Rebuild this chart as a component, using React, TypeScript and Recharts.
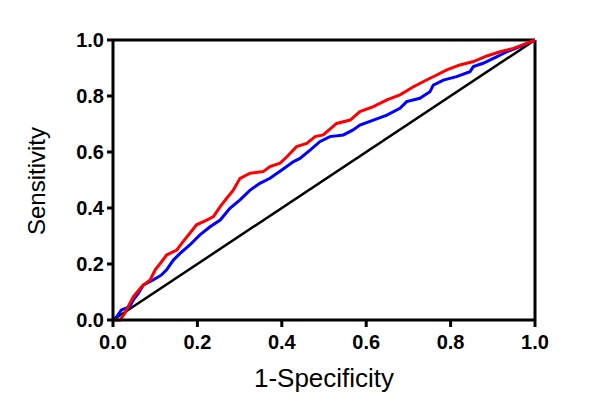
import { LineChart, Line, XAxis, YAxis, ReferenceLine } from 'recharts';

// ROC curve, red series (1-specificity, sensitivity)
const redFpr = [0, 0.017, 0.028, 0.048, 0.068, 0.088, 0.1, 0.111, 0.127, 0.151, 0.166, 0.182, 0.198, 0.222, 0.238, 0.254, 0.269, 0.285, 0.301, 0.325, 0.356, 0.372, 0.396, 0.412, 0.435, 0.459, 0.479, 0.498, 0.53, 0.562, 0.585, 0.617, 0.649, 0.68, 0.712, 0.743, 0.767, 0.791, 0.822, 0.854, 0.886, 0.917, 0.949, 0.98, 1.0];
const redTpr = [0, 0, 0.024, 0.083, 0.119, 0.143, 0.179, 0.2, 0.232, 0.25, 0.28, 0.31, 0.34, 0.357, 0.369, 0.405, 0.434, 0.464, 0.506, 0.524, 0.53, 0.548, 0.56, 0.583, 0.619, 0.631, 0.655, 0.661, 0.702, 0.714, 0.744, 0.762, 0.786, 0.804, 0.833, 0.857, 0.875, 0.893, 0.911, 0.923, 0.943, 0.958, 0.97, 0.988, 1.0];

// ROC curve, blue series
const blueFpr = [0, 0.009, 0.02, 0.04, 0.048, 0.06, 0.072, 0.095, 0.115, 0.127, 0.143, 0.159, 0.182, 0.206, 0.23, 0.254, 0.277, 0.301, 0.325, 0.348, 0.372, 0.4, 0.427, 0.443, 0.467, 0.49, 0.514, 0.546, 0.569, 0.585, 0.617, 0.649, 0.68, 0.696, 0.727, 0.751, 0.759, 0.783, 0.814, 0.846, 0.854, 0.877, 0.909, 0.933, 0.964, 1.0];
const blueTpr = [0, 0.012, 0.036, 0.048, 0.071, 0.095, 0.125, 0.143, 0.161, 0.179, 0.214, 0.238, 0.268, 0.304, 0.333, 0.357, 0.399, 0.429, 0.464, 0.488, 0.506, 0.536, 0.565, 0.577, 0.607, 0.637, 0.655, 0.661, 0.679, 0.696, 0.714, 0.732, 0.756, 0.78, 0.792, 0.815, 0.839, 0.857, 0.869, 0.887, 0.905, 0.917, 0.94, 0.958, 0.976, 1.0];

// reference diagonal
const diagFpr = [0, 1];
const diagTpr = [0, 1];

const ticks = [0, 0.2, 0.4, 0.6, 0.8, 1.0];

const FONT = 'Arial, "Liberation Sans", Helvetica, sans-serif';

const toPoints = (xs: number[], ys: number[]) => xs.map((x, i) => ({ x, y: ys[i] }));

export default function App() {
  const red = toPoints(redFpr, redTpr);
  const blue = toPoints(blueFpr, blueTpr);
  const diag = toPoints(diagFpr, diagTpr);

  const tickStyle = { fill: '#000', fontSize: 20, fontWeight: 'bold', fontFamily: FONT };
  const lineStyle = { stroke: '#000', strokeWidth: 3 };

  return (
    <div style={{ position: 'absolute', left: 0, top: 0, background: '#fff' }}>
      <LineChart width={600} height={412} margin={{ top: 40, right: 65, left: 0, bottom: 0 }}>
        <XAxis
          type="number"
          dataKey="x"
          domain={[0, 1]}
          ticks={ticks}
          tickFormatter={(v: number) => v.toFixed(1)}
          tick={tickStyle}
          tickSize={7}
          tickMargin={8}
          axisLine={lineStyle}
          tickLine={lineStyle}
          height={92}
          label={{
            content: ({ viewBox }: any) => (
              <text
                x={viewBox.x + viewBox.width / 2}
                y={viewBox.y + 67}
                textAnchor="middle"
                fontSize={26}
                fontFamily={FONT}
                fill="#000"
              >
                1-Specificity
              </text>
            ),
          }}
        />
        <YAxis
          type="number"
          dataKey="y"
          domain={[0, 1]}
          ticks={ticks}
          tickFormatter={(v: number) => v.toFixed(1)}
          tick={tickStyle}
          tickSize={6}
          tickMargin={3}
          axisLine={lineStyle}
          tickLine={lineStyle}
          width={113}
          label={{
            content: ({ viewBox }: any) => {
              const cx = viewBox.x + 36;
              const cy = viewBox.y + viewBox.height / 2 + 1;
              return (
                <text
                  x={cx}
                  y={cy}
                  transform={`rotate(-90, ${cx}, ${cy})`}
                  textAnchor="middle"
                  dominantBaseline="central"
                  fontSize={24}
                  fontFamily={FONT}
                  fill="#000"
                >
                  Sensitivity
                </text>
              );
            },
          }}
        />
        <ReferenceLine y={1} stroke="#000" strokeWidth={3} />
        <ReferenceLine x={1} stroke="#000" strokeWidth={3} />
        <Line data={diag} dataKey="y" type="linear" stroke="#000" strokeWidth={2.5} dot={false} activeDot={false} isAnimationActive={false} />
        <Line data={blue} dataKey="y" type="linear" stroke="#0000ff" strokeWidth={3} dot={false} activeDot={false} isAnimationActive={false} />
        <Line data={red} dataKey="y" type="linear" stroke="#ff0000" strokeWidth={3} dot={false} activeDot={false} isAnimationActive={false} />
      </LineChart>
    </div>
  );
}
